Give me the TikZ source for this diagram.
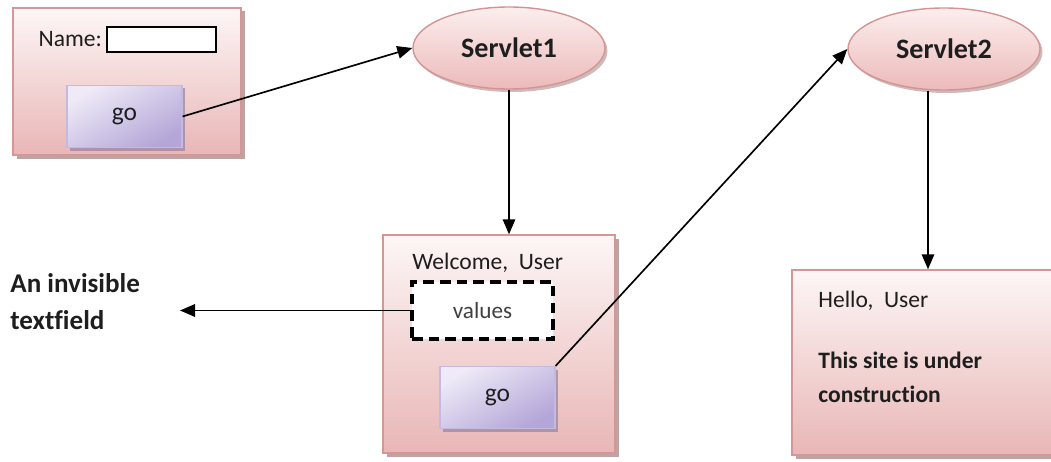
\documentclass[tikz,border=0pt]{standalone}
\usepackage{fontspec}
\setmainfont{Carlito}[Ligatures=NoCommon]
\usepackage{tikz}
\usetikzlibrary{arrows.meta,shapes.geometric,positioning,shadows}
\definecolor{pagetop}   {RGB}{253,246,246}
\definecolor{pagebot}   {RGB}{233,182,182}
\definecolor{pageline}  {RGB}{214,150,150}
\definecolor{pageshadow}{RGB}{175,140,140}
\definecolor{btnlight}  {RGB}{238,234,247}
\definecolor{btndark}   {RGB}{180,166,216}
\definecolor{btnline}   {RGB}{196,186,224}
\definecolor{btnshadow} {RGB}{150,130,160}
\definecolor{srvtop}    {RGB}{252,238,238}
\definecolor{srvbot}    {RGB}{236,186,186}
\definecolor{srvline}   {RGB}{212,148,148}
\definecolor{textdark}  {RGB}{30,30,30}
\tikzset{
  pagebox/.style ={draw=pageline, line width=0.8pt, inner sep=0pt,
                   top color=pagetop, bottom color=pagebot,
                   minimum width=#1,
                   drop shadow={shadow xshift=0.07cm, shadow yshift=-0.07cm,
                                fill=pageshadow, opacity=0.8}},
  btnbox/.style  ={draw=btnline, line width=0.6pt, inner sep=0pt,
                   top color=btnlight, bottom color=btndark, shading angle=30,
                   minimum width=2.30cm, minimum height=1.24cm,
                   text=textdark, font={\fontsize{14.5pt}{17pt}\selectfont},
                   drop shadow={shadow xshift=0.06cm, shadow yshift=-0.06cm,
                                fill=btnshadow, opacity=0.7}},
  srvnode/.style ={ellipse, draw=srvline, line width=0.8pt, inner sep=0pt,
                   top color=srvtop, bottom color=srvbot,
                   minimum width=3.84cm, minimum height=1.64cm,
                   text=textdark, font={\bfseries\fontsize{16pt}{18pt}\selectfont},
                   drop shadow={shadow xshift=0.05cm, shadow yshift=-0.06cm,
                                fill=pageshadow, opacity=0.6}},
  fieldbox/.style={draw=black, line width=0.9pt, fill=white,
                   minimum width=2.18cm, minimum height=0.50cm, inner sep=0pt},
  hiddenbox/.style={draw=black, line width=2pt, fill=white,
                   dash pattern=on 6pt off 3.5pt,
                   minimum width=2.82cm, minimum height=1.14cm, inner sep=0pt,
                   text=textdark!85, font={\fontsize{13.2pt}{16pt}\selectfont}},
  txt/.style     ={inner sep=0pt, text=textdark, align=left,
                   font={\fontsize{13.4pt}{19.4pt}\selectfont}},
  boldtxt/.style ={txt, font={\bfseries\fontsize{13.4pt}{19.4pt}\selectfont}},
  notetxt/.style ={inner sep=0pt, text=textdark, align=left,
                   font={\bfseries\fontsize{15.4pt}{21pt}\selectfont}},
  arr/.style     ={-{Triangle[length=0.30cm, width=0.25cm]}, line width=0.95pt},
}
\begin{document}
\begin{tikzpicture}
  \clip (0,0) rectangle (21.02,-9.24);
  % login page
  \node[pagebox=4.56cm, minimum height=2.94cm] (login) at (2.54,-1.63) {};
  \node[fieldbox] (namefield) at (3.23,-0.79) {};
  \node[txt, left=0.08cm of namefield] (namelbl) {Name:};
  \node[btnbox] (go1) at (2.49,-2.33) {go};
  % servlets
  \node[srvnode] (srv1) at (10.18,-0.96) {Servlet1};
  \node[srvnode] (srv2) at (18.88,-0.98) {Servlet2};
  % welcome page
  \node[pagebox=4.64cm, minimum height=4.36cm] (welcome) at (9.98,-6.88) {};
  \node[txt, anchor=west] (welcometxt) at (8.24,-5.26) {Welcome,\ \ User};
  \node[hiddenbox] (hidden) at (9.65,-6.21) {values};
  \node[btnbox] (go2) at (9.95,-7.95) {go};
  % hello page
  \node[pagebox=5.44cm, minimum height=3.70cm] (hello) at (18.56,-7.25) {};
  \node[txt, anchor=west] (hellotxt) at (16.36,-6.01) {Hello,\ \ User};
  \node[boldtxt, anchor=west] (constrtxt) at (16.36,-7.54) {This site is under\\construction};
  % note on the hidden field
  \node[notetxt, anchor=west] (note) at (0.20,-6.03) {An invisible\\textfield};
  \coordinate (notetip) at (3.60,-6.21);
  % connectors
  \draw[arr] (go1.east) -- (srv1.west);
  \draw[arr] (srv1.south) -- (srv1.south |- welcome.north);
  \draw[arr] (hidden.west) -- (notetip);
  \draw[arr] (go2.north east) -- (srv2.west);
  \draw[arr] (hello.north |- srv2.south) -- (hello.north);
\end{tikzpicture}
\end{document}
